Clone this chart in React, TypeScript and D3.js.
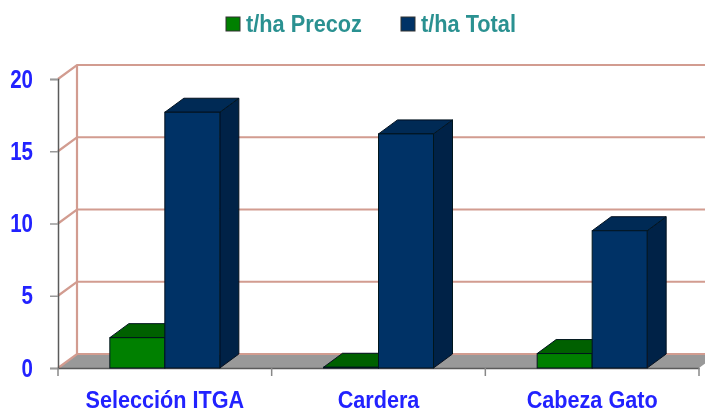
import React, { useEffect, useRef } from 'react'
import * as d3 from 'd3'

const categories = ['Selección ITGA', 'Cardera', 'Cabeza Gato']
const seriesNames = ['t/ha Precoz', 't/ha Total']
const precoz = [2.1, 0.05, 1.0]
const total = [17.7, 16.2, 9.5]
const yTicks = [0, 5, 10, 15, 20]

const width = 705, height = 414
const margin = { top: 79, left: 58, bottom: 46 }
const plotRight = 699
const depth = { x: 19, y: 14 }

const colors = [
  { front: '#008000', top: '#006000', side: '#004d00' },
  { front: '#003366', top: '#002a55', side: '#002247' },
]
const gridColor = '#d29c90'
const axisColor = '#5a5a5a'
const labelColor = '#2222ff'
const legendColor = '#2b9191'
const font = '"Liberation Sans", Arial, sans-serif'

// the original labels are tall and a little condensed
const squeeze = (sel: any, factor: number) => {
  sel.each(function (this: SVGTextElement) {
    const len = this.getComputedTextLength()
    d3.select(this)
      .attr('textLength', len * factor)
      .attr('lengthAdjust', 'spacingAndGlyphs')
  })
}

export default function App() {
  const ref = useRef<SVGSVGElement>(null)

  useEffect(() => {
    const root = d3.select(ref.current)
    root.selectAll('*').remove()

    const defs = root.append('defs')
    defs.append('filter').attr('id', 'soft')
      .attr('x', '-2%').attr('y', '-2%').attr('width', '104%').attr('height', '104%')
      .append('feGaussianBlur').attr('stdDeviation', 0.75)

    const svg = root.append('g').attr('filter', 'url(#soft)')

    const y = d3.scaleLinear().domain([0, 20]).range([height - margin.bottom, margin.top])
    const x = d3.scaleBand().domain(categories).range([margin.left, plotRight])
    const x1 = d3.scaleBand().domain(seriesNames).range([0, 110])
    const y0 = y(0)

    // floor
    svg.append('path')
      .attr('d', `M${margin.left},${y0}L${margin.left + depth.x},${y0 - depth.y}H${plotRight + depth.x}L${plotRight},${y0}Z`)
      .attr('fill', '#999')

    // back wall grid
    svg.selectAll('.grid').data(yTicks).enter().append('path')
      .attr('class', 'grid')
      .attr('d', d => `M${margin.left},${y(d)}l${depth.x},${-depth.y}H${width + 20}`)
      .attr('fill', 'none')
      .attr('stroke', gridColor)
      .attr('stroke-width', 2.2)
    svg.append('line')
      .attr('x1', margin.left + depth.x).attr('x2', margin.left + depth.x)
      .attr('y1', y(20) - depth.y).attr('y2', y0 - depth.y)
      .attr('stroke', gridColor).attr('stroke-width', 2.2)

    // axes
    const yAxis = svg.append('g')
      .attr('transform', `translate(${margin.left},0)`)
      .call(d3.axisLeft(y).tickValues(yTicks).tickSize(8).tickPadding(17))
    yAxis.selectAll('.domain').attr('stroke', axisColor).attr('stroke-width', 1.5)
    yAxis.selectAll('.tick line').attr('stroke', '#999').attr('stroke-width', 1.5)
    yAxis.selectAll('text')
      .attr('font-family', font).attr('font-size', 25).attr('font-weight', 700)
      .attr('fill', labelColor)
      .call(squeeze, 0.82)

    const xAxis = svg.append('g')
      .attr('transform', `translate(0,${y0})`)
      .call(d3.axisBottom(x).tickSizeInner(0).tickSizeOuter(0).tickPadding(24))
    xAxis.selectAll('.domain').attr('stroke', axisColor).attr('stroke-width', 1.5)
    xAxis.selectAll('.tick line').remove()
    xAxis.selectAll('text')
      .attr('font-family', font).attr('font-size', 23).attr('font-weight', 700)
      .attr('fill', labelColor)
      .call(squeeze, 0.94)
    xAxis.selectAll('.edge').data([...categories.map(c => x(c) as number), plotRight]).enter()
      .append('line')
      .attr('class', 'edge')
      .attr('x1', d => d).attr('x2', d => d)
      .attr('y1', 0).attr('y2', 8)
      .attr('stroke', '#888').attr('stroke-width', 1.5)

    // bars
    const series = [precoz, total]
    series.forEach((values, s) => {
      const g = svg.append('g')
      const c = colors[s]
      categories.forEach((cat, i) => {
        const left = (x(cat) as number) + x.bandwidth() / 2 - x1.bandwidth() + (x1(seriesNames[s]) as number)
        const w = x1.bandwidth()
        const top = y(values[i])
        const right = left + w
        g.append('path')
          .attr('d', `M${right},${top}l${depth.x},${-depth.y}V${y0 - depth.y}L${right},${y0}Z`)
          .attr('fill', c.side).attr('stroke', '#06121f').attr('stroke-width', 1)
        g.append('path')
          .attr('d', `M${left},${top}l${depth.x},${-depth.y}H${right + depth.x}L${right},${top}Z`)
          .attr('fill', c.top).attr('stroke', '#06121f').attr('stroke-width', 1)
        g.append('rect')
          .attr('x', left).attr('y', top)
          .attr('width', w).attr('height', y0 - top)
          .attr('fill', c.front).attr('stroke', '#06121f').attr('stroke-width', 1)
      })
    })

    // legend
    const legendX = [226, 401]
    seriesNames.forEach((name, s) => {
      svg.append('rect')
        .attr('x', legendX[s]).attr('y', 17)
        .attr('width', 14).attr('height', 14)
        .attr('fill', colors[s].front)
        .attr('stroke', '#333').attr('stroke-width', 1)
      svg.append('text')
        .attr('x', legendX[s] + 20).attr('y', 32)
        .attr('font-family', font).attr('font-size', 23).attr('font-weight', 700)
        .attr('fill', legendColor)
        .text(name)
        .call(squeeze, 0.945)
    })
  }, [])

  return (
    <svg
      ref={ref}
      width={width}
      height={height}
      style={{ position: 'absolute', left: 0, top: 0, background: '#fff' }}
    />
  )
}
